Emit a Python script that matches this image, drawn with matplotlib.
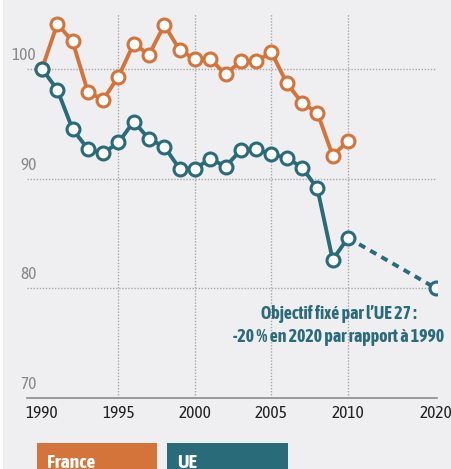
import numpy as np
import matplotlib
matplotlib.use("Agg")
import matplotlib.pyplot as plt
from matplotlib.patches import Rectangle
import matplotlib.transforms as mtransforms

# --- data (index base 100 en 1990) ---
years_fr = list(range(1990, 2011))
france = [100, 104.1, 102.5, 97.9, 97.2, 99.3, 102.3, 101.3, 104.0, 101.7, 100.9,
          100.9, 99.5, 100.7, 100.7, 101.5, 98.7, 96.9, 96.0, 92.1, 93.4]
years_ue = list(range(1990, 2011))
ue = [100, 98.1, 94.5, 92.7, 92.3, 93.3, 95.2, 93.6, 92.9, 90.9, 90.9,
      91.8, 91.1, 92.6, 92.7, 92.2, 91.9, 91.0, 89.1, 82.6, 84.6]
years_target = [2010, 2020]
ue_target = [84.6, 80]

xticks = [1990, 1995, 2000, 2005, 2010, 2020]
yticks = [70, 80, 90, 100]
note = "Objectif fixé par l\u2019UE 27 :\n-20 % en 2020 par rapport à 1990"

ORANGE = "#d4743b"
TEAL = "#2a6b79"
BG = "#efeff1"
GRID = "#a8a8a8"
FONT = ["Asap Condensed", "DejaVu Sans"]

# 2010-2020 is drawn compressed compared to 1990-2010
SQUEEZE = 0.575


def fwd(x):
    x = np.asarray(x, dtype=float)
    return np.where(x <= 2010, x, 2010 + (x - 2010) * SQUEEZE)


def inv(u):
    u = np.asarray(u, dtype=float)
    return np.where(u <= 2010, u, 2010 + (u - 2010) / SQUEEZE)


fig = plt.figure(figsize=(4.51, 4.69), dpi=100, facecolor=BG)
fig.patches.append(Rectangle((0, 0), 3 / 451, 1, transform=fig.transFigure,
                             facecolor="white", edgecolor="none"))

ax = fig.add_axes([27 / 451, 1 - 398 / 469, 410 / 451, 384 / 469])
ax.set_facecolor(BG)
ax.set_xscale("function", functions=(fwd, inv))
ax.set_xlim(1989.02, 2020.12)
ax.set_ylim(70, 105)

for s in ["top", "right", "left"]:
    ax.spines[s].set_visible(False)
ax.spines["bottom"].set_color("#8c8c8c")
ax.spines["bottom"].set_linewidth(1.2)

# grid
for y in yticks[1:]:
    ax.axhline(y, color=GRID, lw=1.0, ls=(0, (1, 1.2)), zorder=1)
for x in xticks[1:5]:
    ax.axvline(x, color=GRID, lw=1.0, ls=(0, (1, 1.2)), zorder=1)

mk = dict(marker="o", markersize=9.3, markerfacecolor="white", markeredgewidth=2.2)
ax.plot(years_fr, france, color=ORANGE, lw=2.8, zorder=3, markeredgecolor=ORANGE, **mk)
ax.plot(years_target, ue_target, color=TEAL, lw=2.8, ls=(0, (1.8, 1.5)),
        dash_capstyle="butt", zorder=3)
ax.plot(years_ue, ue, color=TEAL, lw=2.8, zorder=4, markeredgecolor=TEAL, **mk)
ax.plot(years_target[1:], ue_target[1:], ls="none", color=TEAL, zorder=4,
        markeredgecolor=TEAL, **mk)

# ticks
ax.set_xticks(xticks)
ax.set_xticklabels([str(x) for x in xticks], family=FONT, fontsize=12.5, color="#222222")
ax.tick_params(axis="x", length=0, pad=5)
ax.set_yticks([])
ax.xaxis.set_minor_locator(matplotlib.ticker.NullLocator())

# y labels sit above their gridline, right-aligned
trans = mtransforms.blended_transform_factory(fig.transFigure, ax.transData)
for y in yticks:
    ax.text(36.5 / 451, y + 0.45, str(y), transform=trans, ha="right", va="bottom",
            family=FONT, fontsize=12.5, color="#8a8a8a")

ax.text(2009.4, 76.6, note, ha="center", va="center", family=FONT,
        fontsize=12.8, fontweight="bold", color=TEAL, linespacing=1.4)

# legend boxes
for x0, x1, label, col in [(37, 157, "France", ORANGE), (167, 288, "UE", TEAL)]:
    fig.patches.append(Rectangle((x0 / 451, 0), (x1 - x0) / 451, 26 / 469,
                                 transform=fig.transFigure, facecolor=col,
                                 edgecolor="none"))
    fig.text((x0 + 10) / 451, 1 - 463 / 469, label, ha="left", va="center",
             family=FONT, fontsize=14, fontweight="bold", color="white")

fig.savefig("out.png", dpi=100, facecolor=BG)
